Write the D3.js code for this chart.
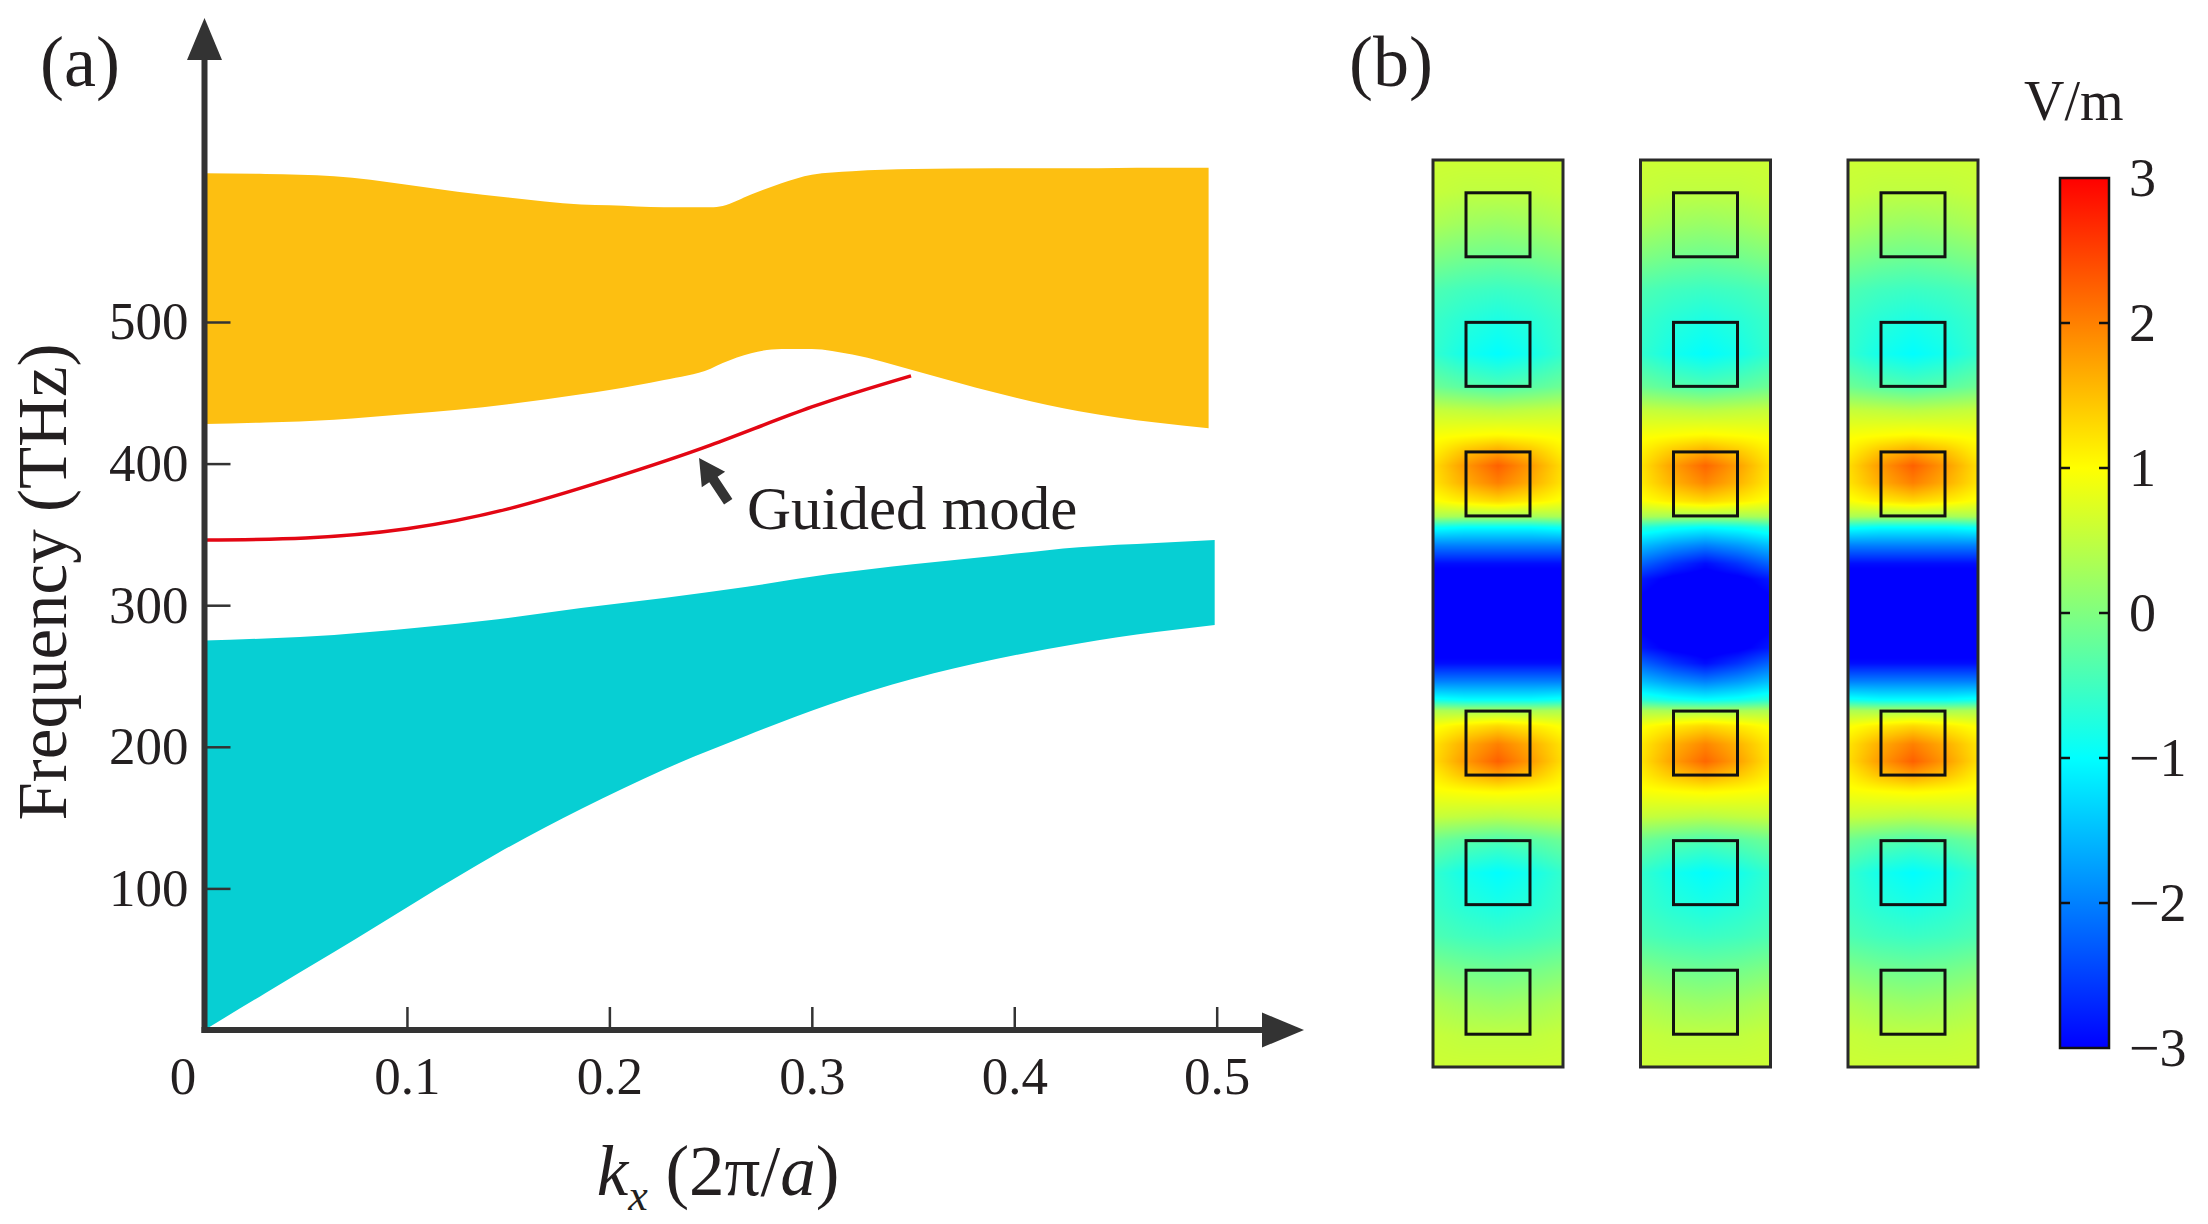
<!DOCTYPE html>
<html>
<head>
<meta charset="utf-8">
<script src="https://cdn.jsdelivr.net/npm/d3@7"></script>
<style>
  html, body { margin: 0; padding: 0; background: #fff; }
  svg text { font-family: "Liberation Serif", "Times New Roman", serif; fill: #231f20; }
</style>
</head>
<body>
<div id="chart"></div>
<script>
// ---------- panel (a): band edges, frequency (THz) vs kx (2pi/a) ----------
const upperK      = [0, 0.03, 0.064, 0.1, 0.125, 0.15, 0.186, 0.2, 0.227, 0.25, 0.256, 0.27, 0.285, 0.3, 0.32, 0.35, 0.391, 0.432, 0.47, 0.496];
const upperTop    = [605, 604.5, 603, 597, 592, 588, 583, 582.5, 581, 581, 582, 590, 598, 604, 606.5, 608, 608.5, 608.5, 609, 609];
const upperBottom = [428, 429, 431, 435, 438, 442, 449, 452, 459, 467, 471, 478, 481, 481, 477, 466, 450, 437, 429, 425];

const lowerK      = [0, 0.03, 0.064, 0.105, 0.145, 0.186, 0.227, 0.268, 0.309, 0.35, 0.391, 0.432, 0.47, 0.499];
const lowerTop    = [275, 276.5, 279, 284, 290, 298, 305, 313, 322, 329, 335, 341, 344, 346];
const lowerBottom = [0, 26, 55, 91, 125, 156, 184, 208, 230, 248, 262, 273, 281, 286];

const guidedK = [0, 0.05, 0.1, 0.15, 0.2, 0.25, 0.3, 0.349];
const guidedF = [346, 347.5, 354, 368, 389, 413, 440, 462];

const xTicks = [0, 0.1, 0.2, 0.3, 0.4, 0.5];
const yTicks = [100, 200, 300, 400, 500];

// ---------- panel (b): field map, V/m ----------
// rows along the strip (0 = top, 1 = bottom), columns from edge to centre (mirrored)
const fieldT = [0, 0.035, 0.070, 0.107, 0.144, 0.177, 0.214, 0.250, 0.276, 0.304, 0.322, 0.337, 0.356, 0.376, 0.393, 0.405, 0.425, 0.445, 0.462,
                0.5,
                0.538, 0.555, 0.575, 0.595, 0.607, 0.624, 0.644, 0.663, 0.678, 0.696, 0.724, 0.750, 0.786, 0.823, 0.856, 0.893, 0.930, 0.965, 1];
const fieldU = [0, 0.25, 0.5];

const fieldA = [
  [0.6, 0.6, 0.6], [0.55, 0.5, 0.5], [0.35, 0.25, 0.2], [0.0, -0.1, -0.15], [-0.4, -0.5, -0.55],
  [-0.55, -0.7, -0.8], [-0.6, -0.85, -1.0], [-0.15, -0.3, -0.4], [0.55, 0.5, 0.45], [0.95, 1.0, 1.05],
  [1.1, 1.5, 1.75], [1.25, 1.8, 2.25], [1.2, 1.65, 2.0], [0.95, 1.15, 1.3], [0.35, 0.3, 0.3],
  [-0.9, -1.0, -1.0], [-2.0, -2.0, -2.0], [-2.9, -2.9, -2.9], [-3.2, -3.2, -3.2],
  [-3.4, -3.4, -3.4],
  [-3.2, -3.2, -3.2], [-2.9, -2.9, -2.9], [-2.0, -2.0, -2.0], [-0.9, -1.0, -1.0],
  [0.35, 0.3, 0.3], [0.95, 1.15, 1.3], [1.2, 1.65, 2.0], [1.25, 1.8, 2.25], [1.1, 1.5, 1.75],
  [0.95, 1.0, 1.05], [0.55, 0.5, 0.45], [-0.15, -0.3, -0.4], [-0.6, -0.85, -1.0], [-0.55, -0.7, -0.8],
  [-0.4, -0.5, -0.55], [0.0, -0.1, -0.15], [0.35, 0.25, 0.2], [0.55, 0.5, 0.5], [0.6, 0.6, 0.6]
];
const fieldB = [
  [0.6, 0.6, 0.6], [0.55, 0.5, 0.5], [0.35, 0.25, 0.2], [0.0, -0.1, -0.15], [-0.4, -0.5, -0.55],
  [-0.55, -0.7, -0.8], [-0.6, -0.85, -1.0], [-0.15, -0.3, -0.4], [0.55, 0.5, 0.45], [0.95, 1.0, 1.05],
  [1.1, 1.45, 1.7], [1.2, 1.75, 2.2], [1.15, 1.6, 1.95], [0.95, 1.15, 1.3], [0.35, 0.3, 0.3],
  [-0.7, -0.9, -1.0], [-1.5, -1.8, -2.0], [-2.2, -2.6, -2.9], [-2.8, -3.1, -3.2],
  [-3.2, -3.4, -3.4],
  [-2.8, -3.1, -3.2], [-2.2, -2.6, -2.9], [-1.5, -1.8, -2.0], [-0.7, -0.9, -1.0],
  [0.35, 0.3, 0.3], [0.95, 1.15, 1.3], [1.15, 1.6, 1.95], [1.2, 1.75, 2.2], [1.1, 1.45, 1.7],
  [0.95, 1.0, 1.05], [0.55, 0.5, 0.45], [-0.15, -0.3, -0.4], [-0.6, -0.85, -1.0], [-0.55, -0.7, -0.8],
  [-0.4, -0.5, -0.55], [0.0, -0.1, -0.15], [0.35, 0.25, 0.2], [0.55, 0.5, 0.5], [0.6, 0.6, 0.6]
];
const stripFields = [fieldA, fieldB, fieldA];
const squareCells = [0, 1, 2, 4, 5, 6];   // unit cells (of 7) holding a square
const cbTicks = [3, 2, 1, 0, -1, -2, -3];
const jetStops = ["#0000ff", "#0080ff", "#00ffff", "#80ff80", "#ffff00", "#ff8000", "#ff0000"];

// ---------- drawing ----------
const W = 2208, H = 1224;
const svg = d3.select("#chart").append("svg")
  .attr("width", W).attr("height", H)
  .style("display", "block");

const axisColor = "#333";
const xScale = d3.scaleLinear().domain([0, 0.5]).range([204.5, 1216.7]);
const yScale = d3.scaleLinear().domain([0, 500]).range([1030, 322]);

// bands
const area = d3.area().curve(d3.curveMonotoneX)
  .x(d => xScale(d.k)).y0(d => yScale(d.lo)).y1(d => yScale(d.hi));

svg.append("path")
  .datum(upperK.map((k, i) => ({ k, lo: upperBottom[i], hi: upperTop[i] })))
  .attr("d", area).attr("fill", "#fdbf11");

svg.append("path")
  .datum(lowerK.map((k, i) => ({ k, lo: lowerBottom[i], hi: lowerTop[i] })))
  .attr("d", area).attr("fill", "#07cfd3");

// guided mode
svg.append("path")
  .datum(guidedK.map((k, i) => ({ k, f: guidedF[i] })))
  .attr("d", d3.line().curve(d3.curveNatural).x(d => xScale(d.k)).y(d => yScale(d.f)))
  .attr("fill", "none").attr("stroke", "#e30613").attr("stroke-width", 3.5);

// annotation arrow
const tip = [xScale(0.2443), yScale(404)], tail = [xScale(0.2587), yScale(373)];
{
  const dx = tail[0] - tip[0], dy = tail[1] - tip[1], L = Math.hypot(dx, dy);
  const u = [dx / L, dy / L], p = [-u[1], u[0]];
  const hl = 26, hw = 14, sw = 5;
  const b = [tip[0] + hl * u[0], tip[1] + hl * u[1]];
  const pts = [
    tip,
    [b[0] + hw * p[0], b[1] + hw * p[1]],
    [b[0] + sw * p[0], b[1] + sw * p[1]],
    [tail[0] + sw * p[0], tail[1] + sw * p[1]],
    [tail[0] - sw * p[0], tail[1] - sw * p[1]],
    [b[0] - sw * p[0], b[1] - sw * p[1]],
    [b[0] - hw * p[0], b[1] - hw * p[1]]
  ];
  svg.append("polygon").attr("points", pts.map(q => q.join(",")).join(" ")).attr("fill", axisColor);
}
svg.append("text").attr("x", xScale(0.268)).attr("y", yScale(354))
  .attr("font-size", 61).text("Guided mode");

// axes
const xAxis = svg.append("g").attr("transform", `translate(0,${yScale(0)})`)
  .call(d3.axisBottom(xScale).tickValues(xTicks).tickSizeInner(-23).tickSizeOuter(0).tickPadding(26)
    .tickFormat(d => d === 0 ? "0" : d3.format(".1f")(d)));
xAxis.select(".domain").remove();
xAxis.attr("font-family", null).attr("font-size", 53).style("color", axisColor);
xAxis.selectAll(".tick line").attr("stroke-width", 2.5).filter(d => d === 0).remove();
xAxis.selectAll(".tick text").filter(d => d === 0).attr("dx", -22);

const yAxis = svg.append("g").attr("transform", `translate(${xScale(0)},0)`)
  .call(d3.axisLeft(yScale).tickValues(yTicks).tickSizeInner(-26).tickSizeOuter(0).tickPadding(16));
yAxis.select(".domain").remove();
yAxis.attr("font-family", null).attr("font-size", 53).style("color", axisColor);
yAxis.selectAll(".tick line").attr("stroke-width", 2.5);

const x0 = xScale(0), y0 = yScale(0);
svg.append("line").attr("x1", x0 - 3).attr("x2", 1266).attr("y1", y0).attr("y2", y0)
  .attr("stroke", axisColor).attr("stroke-width", 6);
svg.append("line").attr("x1", x0).attr("x2", x0).attr("y1", y0 + 3).attr("y2", 56)
  .attr("stroke", axisColor).attr("stroke-width", 6);
svg.append("polygon").attr("points", `${x0},18 ${x0 - 17.5},60 ${x0 + 17.5},60`).attr("fill", axisColor);
svg.append("polygon").attr("points", `1304,${y0} 1262,${y0 - 17.5} 1262,${y0 + 17.5}`).attr("fill", axisColor);

// axis titles
svg.append("text").attr("transform", "translate(66,582) rotate(-90)")
  .attr("text-anchor", "middle").attr("font-size", 69).text("Frequency (THz)");

const xt = svg.append("text").attr("x", 718).attr("y", 1195)
  .attr("text-anchor", "middle").attr("font-size", 71);
xt.append("tspan").attr("font-style", "italic").text("k");
xt.append("tspan").attr("font-style", "italic").attr("font-size", 44).attr("dy", 15).text("x");
xt.append("tspan").attr("dy", -15).text(" (2π/");
xt.append("tspan").attr("font-style", "italic").text("a");
xt.append("tspan").text(")");

svg.append("text").attr("x", 40).attr("y", 86).attr("font-size", 72).text("(a)");
svg.append("text").attr("x", 1349).attr("y", 86).attr("font-size", 72).text("(b)");

// ---------- panel (b) ----------
const color = d3.scaleLinear().domain([-3, -2, -1, 0, 1, 2, 3]).range(jetStops).clamp(true);
const stripW = 130, stripTop = 160, stripBottom = 1067;
const stripLeft = d3.scaleLinear().domain([0, 2]).range([1433, 1848]);
const tScale = d3.scaleLinear().domain([0, 1]).range([stripTop, stripBottom]);

function fieldAt(grid, t, u) {
  const um = Math.min(u, 1 - u);
  const i = Math.max(0, Math.min(fieldT.length - 2, d3.bisectRight(fieldT, t) - 1));
  const ft = (t - fieldT[i]) / (fieldT[i + 1] - fieldT[i]);
  const j = Math.max(0, Math.min(fieldU.length - 2, d3.bisectRight(fieldU, um) - 1));
  const fu = (um - fieldU[j]) / (fieldU[j + 1] - fieldU[j]);
  const a = grid[i][j] + (grid[i][j + 1] - grid[i][j]) * fu;
  const b = grid[i + 1][j] + (grid[i + 1][j + 1] - grid[i + 1][j]) * fu;
  return a + (b - a) * ft;
}

function fieldImage(grid) {
  const w = stripW, h = stripBottom - stripTop;
  const canvas = document.createElement("canvas");
  canvas.width = w; canvas.height = h;
  const ctx = canvas.getContext("2d");
  const img = ctx.createImageData(w, h);
  for (let y = 0; y < h; y++) {
    const t = (y + 0.5) / h;
    for (let x = 0; x < w; x++) {
      const c = d3.rgb(color(fieldAt(grid, t, (x + 0.5) / w)));
      const o = (y * w + x) * 4;
      img.data[o] = c.r; img.data[o + 1] = c.g; img.data[o + 2] = c.b; img.data[o + 3] = 255;
    }
  }
  ctx.putImageData(img, 0, 0);
  return canvas.toDataURL();
}

stripFields.forEach((grid, s) => {
  const g = svg.append("g").attr("transform", `translate(${stripLeft(s)},0)`);
  g.append("image").attr("x", 0).attr("y", stripTop)
    .attr("width", stripW).attr("height", stripBottom - stripTop)
    .attr("preserveAspectRatio", "none").attr("href", fieldImage(grid));
  const sq = 64;
  g.selectAll("rect.sq").data(squareCells).enter().append("rect")
    .attr("x", (stripW - sq) / 2).attr("y", n => tScale((n + 0.5) / 7) - sq / 2)
    .attr("width", sq).attr("height", sq)
    .attr("fill", "none").attr("stroke", "#111").attr("stroke-width", 3);
  g.append("rect").attr("x", 0).attr("y", stripTop).attr("width", stripW).attr("height", stripBottom - stripTop)
    .attr("fill", "none").attr("stroke", "#2a2a2a").attr("stroke-width", 3);
});

// colour bar
const cbX = 2060, cbW = 49;
const cbScale = d3.scaleLinear().domain([-3, 3]).range([1048, 178]);
const grad = svg.append("defs").append("linearGradient").attr("id", "jet")
  .attr("x1", 0).attr("y1", 1).attr("x2", 0).attr("y2", 0);
grad.selectAll("stop").data(color.domain()).enter().append("stop")
  .attr("offset", d => (d + 3) / 6).attr("stop-color", d => color(d));
svg.append("rect").attr("x", cbX).attr("y", cbScale(3)).attr("width", cbW).attr("height", cbScale(-3) - cbScale(3))
  .attr("fill", "url(#jet)").attr("stroke", "#111").attr("stroke-width", 2.5);
const inner = cbTicks.filter(d => Math.abs(d) < 3);
svg.selectAll("line.cbl").data(inner).enter().append("line")
  .attr("x1", cbX).attr("x2", cbX + 10).attr("y1", d => cbScale(d)).attr("y2", d => cbScale(d))
  .attr("stroke", "#111").attr("stroke-width", 2.5);
svg.selectAll("line.cbr").data(inner).enter().append("line")
  .attr("x1", cbX + cbW - 10).attr("x2", cbX + cbW).attr("y1", d => cbScale(d)).attr("y2", d => cbScale(d))
  .attr("stroke", "#111").attr("stroke-width", 2.5);
const cbAxis = svg.append("g").attr("transform", `translate(${cbX + cbW},0)`)
  .call(d3.axisRight(cbScale).tickValues(cbTicks).tickSize(0).tickPadding(20)
    .tickFormat(d => d < 0 ? "\u2212" + Math.abs(d) : String(d)));
cbAxis.select(".domain").remove();
cbAxis.attr("font-family", null).attr("font-size", 54).style("color", "#231f20");

svg.append("text").attr("x", 2024).attr("y", 120).attr("font-size", 56).text("V/m");
</script>
</body>
</html>
